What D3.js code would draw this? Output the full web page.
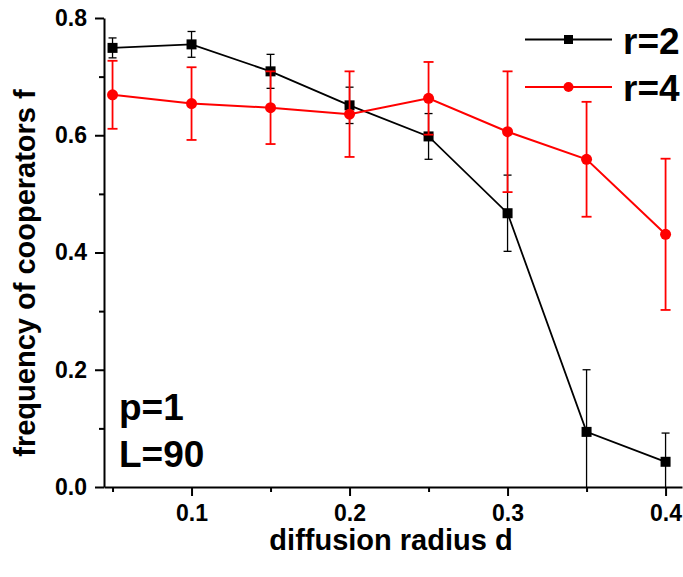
<!DOCTYPE html>
<html>
<head>
<meta charset="utf-8">
<script src="https://cdn.jsdelivr.net/npm/d3@7"></script>
<style>
  body { margin: 0; background: #fff; }
  text { font-family: "Liberation Sans", Arial, sans-serif; font-weight: bold; }
</style>
</head>
<body>
<div id="chart"></div>
<script>
// data
const radius = [0.05, 0.10, 0.15, 0.20, 0.25, 0.30, 0.35, 0.40];
const r2Mean = [0.749, 0.755, 0.709, 0.651, 0.598, 0.467, 0.094, 0.043];
const r2Err = [0.017, 0.022, 0.029, 0.031, 0.039, 0.065, 0.106, 0.049];
const r4Mean = [0.669, 0.654, 0.647, 0.636, 0.663, 0.606, 0.559, 0.431];
const r4Err = [0.058, 0.062, 0.062, 0.073, 0.062, 0.103, 0.098, 0.129];
const xMajor = [0.1, 0.2, 0.3, 0.4];
const xMinor = [0.05, 0.15, 0.25, 0.35];
const yMajor = [0.0, 0.2, 0.4, 0.6, 0.8];
const yMinor = [0.1, 0.3, 0.5, 0.7];
const seriesNames = ["r=2", "r=4"];

const width = 683;
const height = 577;

const svg = d3.select("#chart").append("svg")
  .attr("width", width)
  .attr("height", height);

const x = d3.scaleLinear().domain([0.0446, 0.4104]).range([104, 682]);
const y = d3.scaleLinear().domain([0, 0.8]).range([487, 18]);

// clip so error bars stop at the x axis
svg.append("clipPath").attr("id", "plot")
  .append("rect")
  .attr("x", 104).attr("y", 0)
  .attr("width", 683 - 104).attr("height", 487);

const fmt = d3.format(".1f");

// minor ticks first
svg.append("g")
  .attr("transform", "translate(0,487)")
  .call(d3.axisBottom(x).tickValues(xMinor).tickSize(5).tickSizeOuter(0).tickFormat(""))
  .call((g) => g.select(".domain").remove());
svg.append("g")
  .attr("transform", "translate(104,0)")
  .call(d3.axisLeft(y).tickValues(yMinor).tickSize(5).tickSizeOuter(0).tickFormat(""))
  .call((g) => g.select(".domain").remove());

svg.append("g")
  .attr("transform", "translate(0,487)")
  .call(d3.axisBottom(x).tickValues(xMajor).tickSize(9).tickSizeOuter(0).tickPadding(9).tickFormat(fmt));
svg.append("g")
  .attr("transform", "translate(104,0)")
  .call(d3.axisLeft(y).tickValues(yMajor).tickSize(9).tickSizeOuter(0).tickPadding(8).tickFormat(fmt));

svg.selectAll(".tick line").style("stroke", "#000").style("stroke-width", 2);
svg.selectAll(".domain").style("stroke", "#000").style("stroke-width", 2);
svg.selectAll(".tick text")
  .style("font-size", "23px")
  .style("font-weight", "bold")
  .style("font-family", "'Liberation Sans', Arial, sans-serif")
  .style("fill", "#000");

// axis titles
svg.append("text")
  .attr("x", 391).attr("y", 550)
  .attr("text-anchor", "middle")
  .style("font-size", "29px")
  .text("diffusion radius d");

svg.append("text")
  .attr("transform", "translate(35,273) rotate(-90)")
  .attr("text-anchor", "middle")
  .style("font-size", "29px")
  .text("frequency of cooperators f");

// annotations
svg.append("text").attr("x", 119).attr("y", 420).style("font-size", "37px").text("p=1");
svg.append("text").attr("x", 119).attr("y", 467).style("font-size", "37px").text("L=90");

const plot = svg.append("g").attr("clip-path", "url(#plot)");

const drawSeries = (means, errs, color, capW, errW, lineW, shape) => {
  const pts = radius.map((d, i) => ({ d: d, m: means[i], e: errs[i] }));
  const grp = plot.append("g");

  grp.append("path")
    .datum(pts)
    .attr("fill", "none")
    .attr("stroke", color)
    .attr("stroke-width", lineW)
    .attr("d", d3.line().x((p) => x(p.d)).y((p) => y(p.m)));

  const eb = grp.append("g").selectAll("g").data(pts).enter().append("g")
    .attr("stroke", color)
    .attr("stroke-width", errW);
  eb.append("line")
    .attr("x1", (p) => x(p.d)).attr("x2", (p) => x(p.d))
    .attr("y1", (p) => y(p.m + p.e)).attr("y2", (p) => y(p.m - p.e));
  eb.append("line")
    .attr("x1", (p) => x(p.d) - capW / 2).attr("x2", (p) => x(p.d) + capW / 2)
    .attr("y1", (p) => y(p.m + p.e)).attr("y2", (p) => y(p.m + p.e));
  eb.append("line")
    .attr("x1", (p) => x(p.d) - capW / 2).attr("x2", (p) => x(p.d) + capW / 2)
    .attr("y1", (p) => y(p.m - p.e)).attr("y2", (p) => y(p.m - p.e));

  if (shape === "square") {
    grp.append("g").selectAll("rect").data(pts).enter().append("rect")
      .attr("x", (p) => x(p.d) - 5).attr("y", (p) => y(p.m) - 5)
      .attr("width", 10).attr("height", 10)
      .attr("fill", color);
  } else {
    grp.append("g").selectAll("circle").data(pts).enter().append("circle")
      .attr("cx", (p) => x(p.d)).attr("cy", (p) => y(p.m))
      .attr("r", 5.5)
      .attr("fill", color);
  }
};

drawSeries(r2Mean, r2Err, "#000", 8, 1.3, 1.8, "square");
drawSeries(r4Mean, r4Err, "#ff0000", 10, 1.8, 2, "circle");

// legend
const legend = svg.append("g");
const legendY = [39.5, 87];
const legendColors = ["#000", "#ff0000"];
seriesNames.forEach((name, i) => {
  legend.append("line")
    .attr("x1", 525).attr("x2", 612)
    .attr("y1", legendY[i]).attr("y2", legendY[i])
    .attr("stroke", legendColors[i])
    .attr("stroke-width", i === 0 ? 1.8 : 2);
  if (i === 0) {
    legend.append("rect")
      .attr("x", 564).attr("y", legendY[i] - 4.5)
      .attr("width", 9).attr("height", 9)
      .attr("fill", legendColors[i]);
  } else {
    legend.append("circle")
      .attr("cx", 568.5).attr("cy", legendY[i])
      .attr("r", 5)
      .attr("fill", legendColors[i]);
  }
  legend.append("text")
    .attr("x", 623).attr("y", legendY[i] + 14)
    .style("font-size", "37px")
    .text(name);
});
</script>
</body>
</html>
